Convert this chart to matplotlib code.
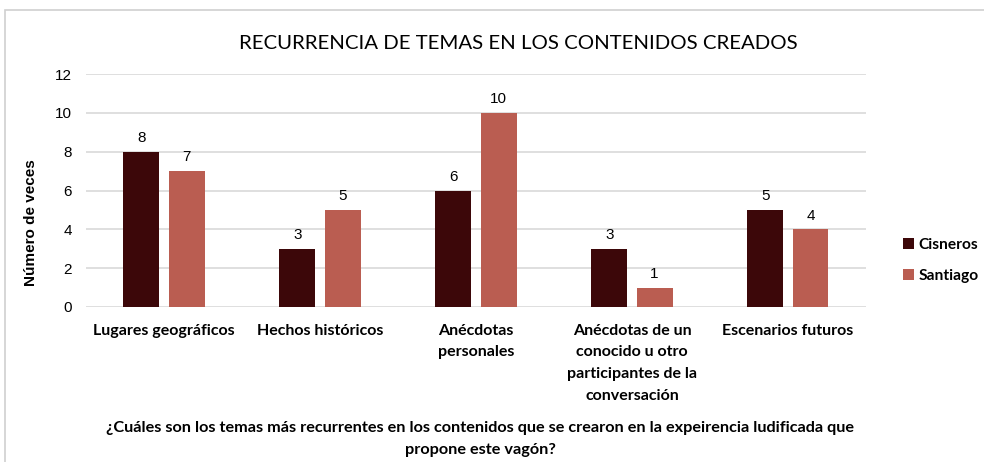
import numpy as np
import matplotlib.pyplot as plt
from matplotlib.patches import Rectangle

# --- datos ---
categorias = [
    "Lugares geográficos",
    "Hechos históricos",
    "Anécdotas\npersonales",
    "Anécdotas de un\nconocido u otro\nparticipantes de la\nconversación",
    "Escenarios futuros",
]
cisneros = [8, 3, 6, 3, 5]
santiago = [7, 5, 10, 1, 4]
series = ["Cisneros", "Santiago"]
y_ticks = [0, 2, 4, 6, 8, 10, 12]

COLOR_CIS = "#3C0709"
COLOR_SAN = "#BA5D51"
GRID = "#D9D9D9"

fig = plt.figure(figsize=(9.84, 4.62), dpi=100)
fig.patches.append(Rectangle((0.005, -0.01), 1.2, 0.988, transform=fig.transFigure,
                             fill=False, edgecolor="#D0D0D0", linewidth=1.2))
ax = fig.add_axes([0.0874, 0.3355, 0.7926, 0.5043])

x = np.arange(len(categorias))
w = 0.23
off = 0.145
b1 = ax.bar(x - off, cisneros, w, color=COLOR_CIS, label=series[0], zorder=3)
b2 = ax.bar(x + off, santiago, w, color=COLOR_SAN, label=series[1], zorder=3)

for bars in (b1, b2):
    for rect in bars:
        h = rect.get_height()
        ax.text(rect.get_x() + rect.get_width() / 2, h + 0.35, f"{h:g}",
                ha="center", va="bottom", fontsize=11, family="Liberation Sans",
                color="#000000")

ax.set_xlim(-0.5, len(categorias) - 0.5)
ax.set_ylim(0, 12)
ax.set_yticks(y_ticks)
ax.yaxis.grid(True, color=GRID, linewidth=1.2, zorder=0)
ax.set_axisbelow(True)
for s in ax.spines.values():
    s.set_visible(False)
ax.tick_params(axis="both", length=0)
ax.tick_params(axis="y", pad=10)
for lab in ax.get_yticklabels():
    lab.set_fontsize(11)
    lab.set_family("Liberation Sans")

ax.set_xticks(x)
ax.set_xticklabels(categorias, fontsize=11.5, fontweight="bold", family="Lato",
                   linespacing=1.7, va="top")
ax.tick_params(axis="x", pad=12)

ax.set_ylabel("Número de veces", fontsize=11, fontweight="bold",
              family="Liberation Sans")
ax.yaxis.set_label_coords(-0.062, 0.36)

fig.text(0.527, 0.905, "RECURRENCIA DE TEMAS EN LOS CONTENIDOS CREADOS",
         ha="center", va="center", fontsize=14.7, family="Lato")

fig.text(0.488, 0.05,
         "¿Cuáles son los temas más recurrentes en los contenidos que se crearon en la expeirencia ludificada que\npropone este vagón?",
         ha="center", va="center", fontsize=11.7, fontweight="bold", family="Lato",
         linespacing=1.75)

ax.legend(loc="center left", bbox_to_anchor=(1.03, 0.2), frameon=False,
          prop={"family": "Lato", "weight": "bold", "size": 11.2},
          handlelength=0.7, handleheight=0.7, handletextpad=0.3, labelspacing=1.1)

fig.savefig("out.png", dpi=100)
